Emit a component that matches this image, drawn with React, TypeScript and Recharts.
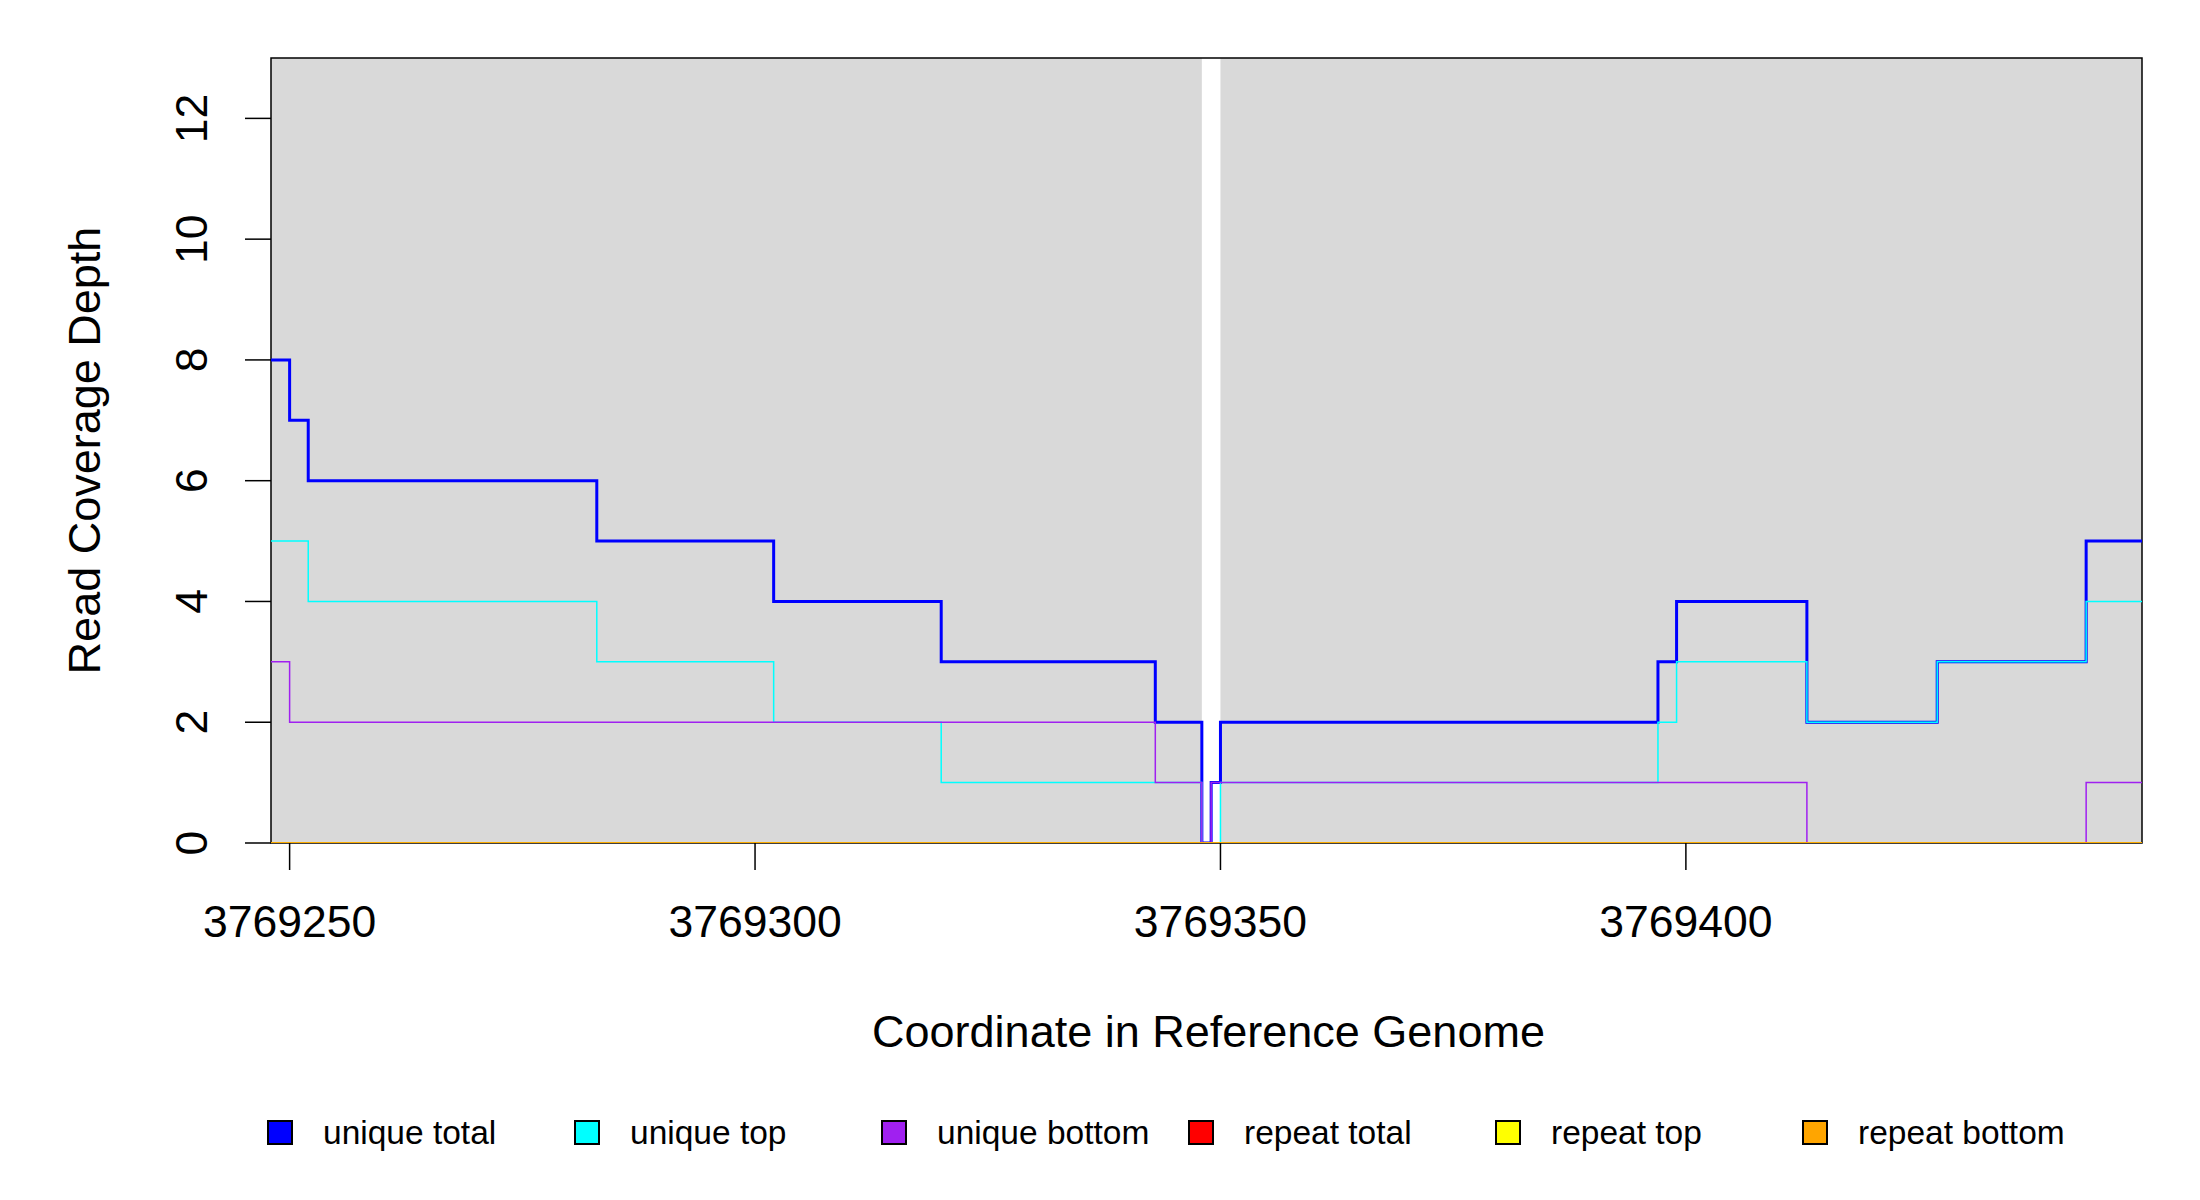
import React from 'react';
import { LineChart, Line, XAxis, YAxis, ReferenceArea, Label } from 'recharts';

// coverage change points along the reference genome
const positions = [
  3769248, 3769250, 3769252, 3769283, 3769302, 3769320, 3769343, 3769348,
  3769349, 3769350, 3769397, 3769399, 3769413, 3769427, 3769443, 3769449,
];
const uniqueTotal = [8, 7, 6, 5, 4, 3, 2, 0, 1, 2, 3, 4, 2, 3, 5, 5];
const uniqueTop = [5, 5, 4, 3, 2, 1, 1, 0, 0, 1, 2, 3, 2, 3, 4, 4];
const uniqueBottom = [3, 2, 2, 2, 2, 2, 1, 0, 1, 1, 1, 1, 0, 0, 1, 1];
const repeatTotal = [0, 0, 0, 0, 0, 0, 0, 0, 0, 0, 0, 0, 0, 0, 0, 0];
const repeatTop = [0, 0, 0, 0, 0, 0, 0, 0, 0, 0, 0, 0, 0, 0, 0, 0];
const repeatBottom = [0, 0, 0, 0, 0, 0, 0, 0, 0, 0, 0, 0, 0, 0, 0, 0];

const xTicks = [3769250, 3769300, 3769350, 3769400];
const yTicks = [0, 2, 4, 6, 8, 10, 12];
const xDomain = [3769248, 3769449];
const yDomain = [0, 13];
// covered stretches drawn with the grey background
const coveredRanges = [
  [3769248, 3769348],
  [3769350, 3769449],
];

const series = [
  { key: 'uniqueTotal', name: 'unique total', color: '#0000FF', width: 3 },
  { key: 'uniqueTop', name: 'unique top', color: '#00FFFF', width: 1.5 },
  { key: 'uniqueBottom', name: 'unique bottom', color: '#A020F0', width: 1.5 },
  { key: 'repeatTotal', name: 'repeat total', color: '#FF0000', width: 1.5 },
  { key: 'repeatTop', name: 'repeat top', color: '#FFFF00', width: 1.5 },
  { key: 'repeatBottom', name: 'repeat bottom', color: '#FFA500', width: 1.5 },
];

const data = positions.map((pos, i) => ({
  pos,
  uniqueTotal: uniqueTotal[i],
  uniqueTop: uniqueTop[i],
  uniqueBottom: uniqueBottom[i],
  repeatTotal: repeatTotal[i],
  repeatTop: repeatTop[i],
  repeatBottom: repeatBottom[i],
}));

const FONT = '"Liberation Sans", Arial, sans-serif';

const XTick = (props: any) => (
  <text x={props.x} y={props.y + 67} textAnchor="middle" fontSize={44.5} fontFamily={FONT} fill="#000">
    {props.payload.value}
  </text>
);

const YTick = (props: any) => {
  const x = props.x - 38;
  return (
    <text x={x} y={props.y} transform={`rotate(-90, ${x}, ${props.y})`} textAnchor="middle" fontSize={44.5} fontFamily={FONT} fill="#000">
      {props.payload.value}
    </text>
  );
};

export default function App() {
  return (
    <div style={{ position: 'absolute', left: 0, top: 0, width: 2200, height: 1200, background: '#fff' }}>
      <LineChart width={2200} height={1200} data={data} margin={{ top: 58, right: 58, bottom: 257, left: 171 }}>
        {coveredRanges.map((r, i) => (
          <ReferenceArea key={i} x1={r[0]} x2={r[1]} y1={0} y2={13} fill="#D9D9D9" fillOpacity={1} stroke="none" />
        ))}
        <XAxis
          dataKey="pos"
          type="number"
          domain={xDomain}
          ticks={xTicks}
          allowDataOverflow
          height={100}
          tickSize={27}
          tickMargin={0}
          axisLine={false}
          tickLine={{ stroke: '#000', strokeWidth: 1.5 }}
          tick={<XTick />}
        >
          <Label
            content={(p: any) => (
              <text x={p.viewBox.x + p.viewBox.width / 2 + 2} y={p.viewBox.y + 204} textAnchor="middle" fontSize={45} fontFamily={FONT} fill="#000">
                Coordinate in Reference Genome
              </text>
            )}
          />
        </XAxis>
        <YAxis
          type="number"
          domain={yDomain}
          ticks={yTicks}
          allowDataOverflow
          width={100}
          tickSize={26}
          tickMargin={0}
          axisLine={false}
          tickLine={{ stroke: '#000', strokeWidth: 1.5 }}
          tick={<YTick />}
        >
          <Label
            content={(p: any) => {
              const x = p.viewBox.x - 71;
              const y = p.viewBox.y + p.viewBox.height / 2;
              return (
                <text x={x} y={y} transform={`rotate(-90, ${x}, ${y})`} textAnchor="middle" fontSize={45} fontFamily={FONT} fill="#000">
                  Read Coverage Depth
                </text>
              );
            }}
          />
        </YAxis>
        {series.map(s => (
          <Line
            key={s.key}
            type="stepAfter"
            dataKey={s.key}
            name={s.name}
            stroke={s.color}
            strokeWidth={s.width}
            dot={false}
            activeDot={false}
            isAnimationActive={false}
          />
        ))}
        <ReferenceArea x1={xDomain[0]} x2={xDomain[1]} y1={0} y2={13} fill="none" stroke="#000" strokeWidth={1.5} />
      </LineChart>

      {/* legend row under the plot */}
      <svg width={2200} height={1200} style={{ position: 'absolute', left: 0, top: 0, pointerEvents: 'none' }}>
        {series.map((s, i) => {
          const cx = 280 + i * 307;
          return (
            <g key={s.key}>
              <rect x={cx - 12} y={1121} width={24} height={23} fill={s.color} stroke="#000" strokeWidth={2} />
              <text x={cx + 43} y={1144} fontSize={33.5} fontFamily={FONT} fill="#000">
                {s.name}
              </text>
            </g>
          );
        })}
      </svg>
    </div>
  );
}
